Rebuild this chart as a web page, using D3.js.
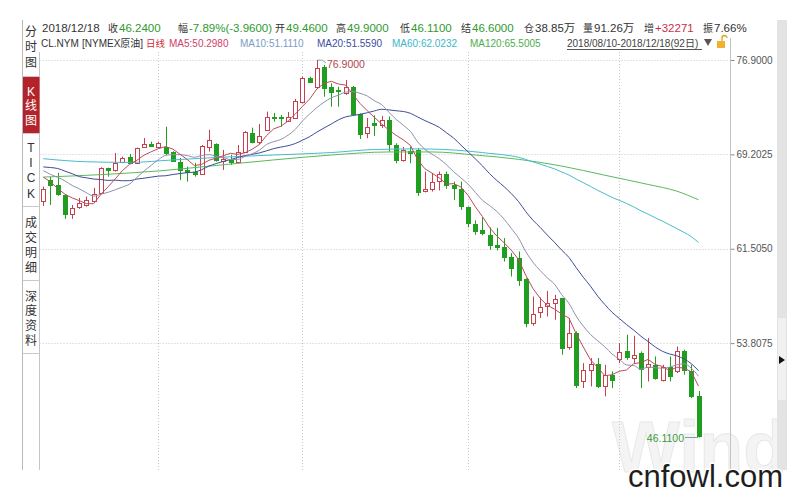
<!DOCTYPE html>
<html><head><meta charset="utf-8">
<script src="https://cdn.jsdelivr.net/npm/d3@7/dist/d3.min.js"></script>
<style>
html,body{margin:0;padding:0;background:#fff;}
svg{display:block;font-family:"Liberation Sans",Arial,"Noto Sans CJK SC",sans-serif;}
</style></head><body>
<svg id="chart" width="800" height="497"></svg>
<script>
// ---------------- DATA ----------------
const dates = ["08/10","08/13","08/14","08/15","08/16","08/17","08/20","08/21","08/22","08/23","08/24","08/27","08/28","08/29","08/30","08/31",
"09/03","09/04","09/05","09/06","09/07","09/10","09/11","09/12","09/13","09/14","09/17","09/18","09/19","09/20","09/21","09/24","09/25","09/26","09/27","09/28",
"10/01","10/02","10/03","10/04","10/05","10/08","10/09","10/10","10/11","10/12","10/15","10/16","10/17","10/18","10/19","10/22","10/23","10/24","10/25","10/26","10/29","10/30","10/31",
"11/01","11/02","11/05","11/06","11/07","11/08","11/09","11/12","11/13","11/14","11/15","11/16","11/19","11/20","11/21","11/23","11/26","11/27","11/28","11/29","11/30",
"12/03","12/04","12/05","12/06","12/07","12/10","12/11","12/12","12/13","12/14","12/17","12/18"];

const open  = [65.41,67.12,66.71,65.90,64.35,64.90,65.08,65.41,66.09,68.10,67.94,68.59,68.99,68.53,69.81,70.08,
69.83,69.83,69.43,68.61,67.94,67.80,67.61,69.83,70.03,68.67,68.75,68.61,69.43,70.97,70.19,71.20,72.28,72.25,71.93,72.20,
73.50,75.41,74.70,76.33,74.70,74.45,74.19,74.70,72.50,70.93,71.77,71.60,72.01,69.97,68.75,69.48,69.52,66.18,66.35,67.00,67.58,66.71,66.39,
64.90,63.51,63.00,62.64,61.82,61.63,60.80,60.74,59.05,55.44,56.31,56.87,57.07,57.48,53.49,54.63,50.68,51.64,52.10,50.27,51.23,
52.51,53.13,52.59,52.99,51.86,52.04,50.82,51.90,51.50,53.13,51.50,49.46];
const high  = [66.57,67.36,67.69,65.95,65.08,65.65,65.76,66.47,68.15,68.12,69.32,69.02,69.24,69.75,70.54,70.24,
70.24,71.46,69.45,68.91,68.20,68.51,69.97,71.20,70.10,69.57,69.16,69.97,71.10,71.38,71.68,72.69,72.58,72.42,72.66,73.72,
75.54,75.54,76.90,76.49,75.00,74.72,75.27,74.78,72.55,72.17,72.38,72.34,72.30,70.11,69.81,69.83,69.73,67.80,67.69,67.80,67.80,66.98,66.98,
64.95,63.82,64.08,63.25,63.21,62.37,61.15,61.28,59.10,57.61,57.54,58.07,57.75,57.50,55.85,54.76,52.18,52.59,52.59,52.04,51.50,
53.81,54.49,54.41,53.13,54.22,52.72,52.04,52.72,53.53,53.27,52.04,49.90];
const low   = [65.00,65.08,65.82,63.94,63.94,64.76,64.94,65.35,66.05,67.39,67.80,68.48,68.42,68.48,69.73,69.83,
69.70,69.16,68.61,67.12,66.98,67.39,67.53,69.43,68.61,67.94,68.34,68.51,69.40,70.11,70.03,71.11,71.87,71.46,71.85,72.09,
73.37,75.03,74.54,73.91,73.09,73.09,74.05,72.42,70.46,70.52,70.71,71.36,69.43,68.48,68.61,68.48,65.82,66.10,66.17,66.26,66.39,65.49,64.67,
63.25,62.64,62.60,61.41,61.37,60.46,59.24,58.48,55.10,55.22,55.85,55.98,55.71,52.86,53.27,50.14,50.14,50.27,50.14,49.46,50.14,
52.18,52.45,52.18,50.14,50.68,50.82,50.68,50.68,51.37,51.23,49.33,46.11];
const close = [66.36,66.74,65.98,64.32,64.86,65.27,65.49,65.98,68.12,67.94,68.51,68.91,68.51,69.73,70.05,69.92,
70.14,69.35,68.69,67.94,67.80,67.61,69.89,70.38,68.75,68.83,68.59,69.43,71.06,70.19,70.71,72.28,72.15,72.17,72.28,73.56,
75.46,75.13,76.25,74.62,74.32,74.37,74.68,72.50,70.87,71.40,71.60,72.01,70.05,68.75,69.52,69.32,66.17,66.39,66.96,67.58,66.74,66.44,64.96,
63.57,62.94,62.76,61.82,61.63,60.80,59.95,58.93,55.44,56.22,56.79,57.07,57.40,53.40,54.63,50.41,51.64,52.12,50.33,51.23,50.82,
53.05,52.67,52.86,51.69,52.12,50.96,51.90,51.15,53.13,51.64,49.52,46.24];

const ma5 = [67.34,66.96,66.41,65.96,65.65,65.43,65.18,65.18,65.94,66.56,67.21,67.89,68.40,68.72,69.14,69.42,69.67,69.84,69.63,69.21,
68.78,68.28,68.39,68.72,68.89,69.09,69.29,69.20,69.33,69.62,70.00,70.73,71.28,71.50,71.92,72.49,73.12,73.72,74.54,75.00,
75.16,74.94,74.85,74.10,73.35,72.76,72.21,71.68,71.19,70.76,70.39,69.93,68.76,68.03,67.67,67.28,66.77,66.82,66.54,65.86,
64.93,64.13,63.21,62.54,61.99,61.39,60.63,59.35,58.27,57.47,56.89,56.58,56.18,55.86,54.58,53.50,52.44,51.83,51.15,51.23,
51.51,51.62,52.13,52.22,52.48,52.06,51.91,51.56,51.85,51.76,51.47,50.30];
const ma10 = [67.87,67.57,67.33,67.04,66.67,66.39,66.07,65.80,65.95,66.11,66.32,66.54,66.79,67.33,67.85,68.32,68.78,69.12,69.18,69.18,
69.10,68.97,69.11,69.18,69.05,68.94,68.78,68.79,69.03,69.25,69.54,70.01,70.24,70.42,70.77,71.24,71.93,72.50,73.02,73.46,
73.82,74.03,74.28,74.32,74.18,73.96,73.57,73.26,72.64,72.06,71.58,71.07,70.22,69.61,69.22,68.84,68.35,67.79,67.28,66.77,
66.11,65.45,65.02,64.54,63.92,63.16,62.38,61.28,60.41,59.73,59.14,58.61,57.76,57.06,56.02,55.19,54.51,54.00,53.50,52.91,
52.50,52.03,51.98,51.68,51.85,51.79,51.76,51.85,52.04,52.12,51.76,51.11];
const ma20 = [68.18,68.13,68.05,67.84,67.63,67.39,67.29,67.19,67.15,67.08,67.10,67.05,67.06,67.19,67.26,67.35,67.43,67.46,67.56,67.64,
67.71,67.76,67.95,68.25,68.45,68.63,68.78,68.95,69.10,69.21,69.32,69.49,69.67,69.80,69.91,70.09,70.36,70.65,71.02,71.36,
71.68,72.02,72.26,72.37,72.47,72.60,72.75,72.88,72.83,72.76,72.70,72.55,72.25,71.96,71.70,71.40,70.96,70.53,69.96,69.41,
68.84,68.26,67.62,67.07,66.57,66.00,65.36,64.54,63.84,63.25,62.62,62.03,61.39,60.80,59.97,59.18,58.45,57.64,56.95,56.32,
55.82,55.32,54.87,54.37,53.94,53.49,53.14,52.92,52.77,52.51,52.13,51.56];
const ma60Dates = ["08/10","08/20","08/28","09/05","09/13","09/25","10/05","10/15","10/23",
"11/01","11/02","11/05","11/06","11/07","11/08","11/09","11/12","11/13","11/14","11/15","11/16","11/19","11/20","11/21","11/23","11/26","11/27","11/28","11/29","11/30",
"12/03","12/04","12/05","12/06","12/07","12/10","12/11","12/12","12/13","12/14","12/17","12/18"];
const ma60Values = [68.85,68.60,68.55,68.75,68.95,69.15,69.35,69.60,69.65,
69.47,69.41,69.35,69.28,69.23,69.16,69.08,68.97,68.79,68.59,68.41,68.22,68.02,67.77,67.52,67.19,66.89,66.59,66.27,65.98,65.69,
65.45,65.20,64.92,64.60,64.33,64.03,63.75,63.45,63.15,62.84,62.49,62.02];
const ma120Dates = ["08/10","08/22","09/03","09/13","09/25","10/05","10/17","10/25","11/02","11/12","11/20","11/29","12/07","12/13","12/18"];
const ma120Values = [67.35,67.55,67.85,68.30,68.75,69.15,69.40,69.40,69.15,68.80,68.25,67.50,66.75,66.20,65.50];

const yTicks = [76.9, 69.2025, 61.505, 53.8075];
const monthStarts = ["09/03","10/01","11/01","12/03"];

const headerRow1 = [["","2018/12/18","#333"],["收","46.2400","g"],["幅","-7.89%(-3.9600)","g"],["开","49.4600","g"],["高","49.9000","g"],
["低","46.1100","g"],["结","46.6000","g"],["仓","38.85万","#333"],["量","91.26万","#333"],["增","+32271","r"],["振","7.66%","#333"]];
const headerRow2 = [["CL.NYM","#333"],["[NYMEX原油]","#333"],["日线","#d02a36"],["MA5:50.2980","#d0406a"],["MA10:51.1110","#7d9cc6"],
["MA20:51.5590","#3c4ea0"],["MA60:62.0232","#3cb6c8"],["MA120:65.5005","#4cae4c"]];
const rangeText = "2018/08/10-2018/12/18(92日)";
const sideTabs = [["分","时","图"],["K","线","图"],["T","I","C","K"],["成","交","明","细"],["深","度","资","料"]];

// ---------------- LAYOUT ----------------
const GREEN = "#2e9a2e", RED = "#c8304a";
const UP = "#c8404e", DOWN = "#1f9e1f";
const maColors = {ma5:"#bd4a5e", ma10:"#8f92ac", ma20:"#3d4c98", ma60:"#46bccc", ma120:"#5cb85c"};
const svg = d3.select("#chart");
const plotL = 39.5, plotR = 730.5, plotT = 52, plotB = 470;

const x = d3.scalePoint().domain(dates).range([39.7, 702.1]).padding(0.5);
const y = d3.scaleLinear().domain([46.11, 76.9]).range([437.5, 60]);

// faint logo watermark
svg.append("text").attr("x",612).attr("y",472).attr("font-size",72).attr("font-weight","bold")
  .attr("fill","#f4f4f4").attr("stroke","#e8e8e8").attr("stroke-width",1).text("Wind");

// gridlines
svg.append("g").selectAll("line").data(yTicks).join("line")
  .attr("x1",plotL).attr("x2",plotR).attr("y1",d=>Math.round(y(d))+0.5).attr("y2",d=>Math.round(y(d))+0.5)
  .attr("stroke","#c8c8c8").attr("stroke-dasharray","1,2");
svg.append("g").selectAll("line").data(monthStarts).join("line")
  .attr("x1",d=>Math.round(x(d))+0.5).attr("x2",d=>Math.round(x(d))+0.5).attr("y1",plotT).attr("y2",plotB)
  .attr("stroke","#c8c8c8").attr("stroke-dasharray","1,2");

// candles
const data = dates.map((d,i)=>({date:d,o:open[i],h:high[i],l:low[i],c:close[i]}));
const cg = svg.append("g");
cg.selectAll("line").data(data).join("line")
  .attr("x1",d=>Math.round(x(d.date))+0.5).attr("x2",d=>Math.round(x(d.date))+0.5)
  .attr("y1",d=>y(d.h)).attr("y2",d=>y(d.l))
  .attr("stroke",d=>d.c>=d.o?UP:DOWN);
cg.selectAll("rect").data(data).join("rect")
  .attr("x",d=>Math.round(x(d.date))-1.5)
  .attr("y",d=>Math.round(y(Math.max(d.o,d.c)))+0.5)
  .attr("width",4)
  .attr("height",d=>Math.max(Math.round(y(Math.min(d.o,d.c)))-Math.round(y(Math.max(d.o,d.c))),0))
  .attr("fill",d=>d.c>=d.o?"#fff":DOWN)
  .attr("stroke",d=>d.c>=d.o?UP:DOWN);

// MA lines
const lineFull = (arr,curve)=>d3.line().x((v,i)=>x(dates[i])).y(v=>y(v)).curve(curve)(arr);
const lineSampled = (ds,vs)=>d3.line().x((v,i)=>x(ds[i])).y(v=>y(v)).curve(d3.curveMonotoneX)(vs);
const lg = svg.append("g").attr("fill","none").attr("stroke-width",1);
lg.append("path").attr("d",lineSampled(ma120Dates,ma120Values)).attr("stroke",maColors.ma120);
lg.append("path").attr("d",lineSampled(ma60Dates,ma60Values)).attr("stroke",maColors.ma60);
lg.append("path").attr("d",lineFull(ma20,d3.curveMonotoneX)).attr("stroke",maColors.ma20);
lg.append("path").attr("d",lineFull(ma10,d3.curveMonotoneX)).attr("stroke",maColors.ma10);
lg.append("path").attr("d",lineFull(ma5,d3.curveLinear)).attr("stroke",maColors.ma5);

// max / min annotations
const fmt = d3.format(".4f");
const iMax = d3.maxIndex(high), iMin = d3.minIndex(low);
const hx = Math.round(x(dates[iMax])), hy = y(high[iMax]);
svg.append("path").attr("d",`M${hx+1},${hy} Q${hx+6},${hy-1} ${hx+9},${hy+3}`).attr("fill","none").attr("stroke","#8aa8b8");
svg.append("text").attr("x",hx+10).attr("y",hy+8).attr("font-size",10.5).attr("fill","#b04850").text(fmt(high[iMax]));
const lx = Math.round(x(dates[iMin])), ly = y(low[iMin]);
svg.append("line").attr("x1",lx-14).attr("x2",lx-1).attr("y1",ly).attr("y2",ly).attr("stroke","#7aa0a8");
svg.append("text").attr("x",lx-15).attr("y",ly+4).attr("text-anchor","end").attr("font-size",10.5).attr("fill","#3c9a3c").text(fmt(low[iMin]));

// right axis
const ax = svg.append("g").attr("transform",`translate(${plotR},0)`)
  .call(d3.axisRight(y).tickValues(yTicks).tickFormat(fmt).tickSize(4).tickPadding(2).tickSizeOuter(0));
ax.select(".domain").remove();
ax.selectAll(".tick line").attr("stroke","#888");
ax.selectAll(".tick text").attr("fill","#555").attr("font-size",10).attr("font-family","'Liberation Sans',Arial,sans-serif");
svg.append("line").attr("x1",plotR).attr("x2",plotR).attr("y1",38).attr("y2",plotB).attr("stroke","#c4c4c4");
svg.append("line").attr("x1",plotL).attr("x2",plotL).attr("y1",plotT).attr("y2",plotB).attr("stroke","#c4c4c4");

// scroll bar
svg.append("rect").attr("x",777).attr("y",20).attr("width",10).attr("height",450).attr("fill","#e3e3e3");
svg.append("rect").attr("x",778).attr("y",318).attr("width",8).attr("height",82).attr("fill","#f1f1f1");
svg.append("path").attr("d","M779,356 L785,360 L779,364 Z").attr("fill","#111");

// header row 1
const row1X = [42,110,180,277,338,402,463,526,585,646,705];
const h1 = svg.append("g");
headerRow1.forEach((d,i)=>{
  if (d[0]) h1.append("text").attr("x",row1X[i]-2).attr("y",32).attr("font-size",10).attr("fill","#333").text(d[0]);
  h1.append("text").attr("x",row1X[i]+(d[0]?9:0)).attr("y",32).attr("font-size",11.5)
   .attr("fill",d[2]==="g"?GREEN:d[2]==="r"?RED:d[2]).text(d[1]);
});
// header row 2
const row2X = [41,82,146,169,240,317,392,470];
svg.append("g").selectAll("text").data(headerRow2).join("text")
  .attr("x",(d,i)=>row2X[i]).attr("y",47).attr("font-size",(d,i)=>i===2?9.5:10).attr("fill",d=>d[1]).text(d=>d[0]);
svg.append("text").attr("x",567).attr("y",47).attr("font-size",10).attr("fill","#444").text(rangeText);
svg.append("line").attr("x1",567).attr("x2",702).attr("y1",49.5).attr("y2",49.5).attr("stroke","#555");
svg.append("path").attr("d","M704,39 L712,39 L708,46 Z").attr("fill","#555");
svg.append("rect").attr("x",717).attr("y",41).attr("width",8).attr("height",7).attr("fill","#f0b030");
svg.append("path").attr("d","M722,41 L722,38 A2.5,2.5 0 0 1 727,38").attr("fill","none").attr("stroke","#e0a020").attr("stroke-width",1.3);

// side tabs
const tabBot = [76,133,206,280,353];
const charY = [[32,47,63],[92,106,121],[148,163,178,194],[223,238,253,268],[297,311,326,341]];
const sg = svg.append("g");
sg.append("rect").attr("x",22.5).attr("y",77).attr("width",17).attr("height",56).attr("fill","#b5232a");
sg.append("line").attr("x1",22.5).attr("x2",22.5).attr("y1",20).attr("y2",plotB).attr("stroke","#b8b8b8");
sideTabs.forEach((tab,ti)=>{
  sg.append("line").attr("x1",22.5).attr("x2",39.5).attr("y1",tabBot[ti]+0.5).attr("y2",tabBot[ti]+0.5).attr("stroke","#c8c8c8");
  tab.forEach((ch,ci)=>{
    sg.append("text").attr("x",31).attr("y",charY[ti][ci]).attr("text-anchor","middle").attr("dominant-baseline","central")
      .attr("font-size",12).attr("fill",ti===1?"#fff":"#333").text(ch);
  });
});

// site watermark
svg.append("text").attr("x",628).attr("y",487).attr("font-size",31).attr("fill","#1e1e1e")
  .attr("stroke","#fff").attr("stroke-width",3).attr("paint-order","stroke").text("cnfowl.com");
svg.append("path").attr("d","").attr("stroke","none");
</script>
</body></html>
